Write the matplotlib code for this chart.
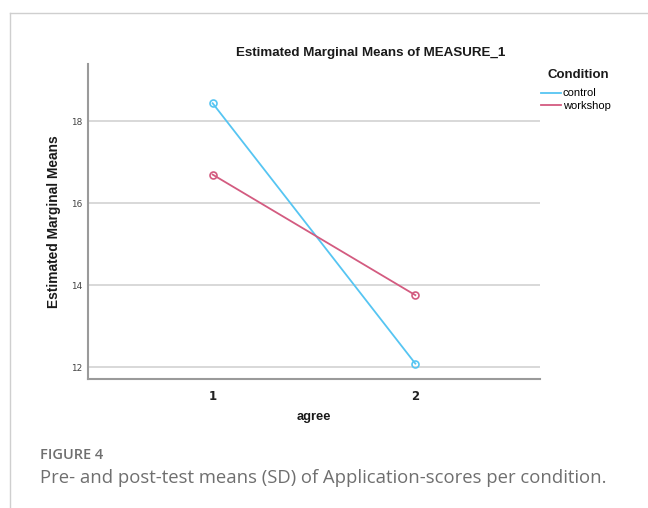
import matplotlib
matplotlib.use("Agg")
import matplotlib.pyplot as plt
from matplotlib.lines import Line2D

# ---- data ----
agree_levels = [1, 2]
conditions = ["control", "workshop"]
control_means = [18.44, 12.09]
workshop_means = [16.70, 13.76]
y_ticks = [12, 14, 16, 18]

colors = {"control": "#56c5f2", "workshop": "#d35b80"}

W, H = 648, 508
fig = plt.figure(figsize=(W / 100, H / 100), dpi=100)

# page-style border lines
fig.add_artist(Line2D([9.5 / W, 1], [1 - 12.5 / H, 1 - 12.5 / H], color="#cfcfcf", lw=1.0))
fig.add_artist(Line2D([9.5 / W, 9.5 / W], [0, 1 - 12.5 / H], color="#cfcfcf", lw=1.0))

left, right, top, bottom = 88, 540, 64, 379
ax = fig.add_axes([left / W, 1 - bottom / H, (right - left) / W, (bottom - top) / H])

for y in y_ticks:
    ax.axhline(y, color="#d6d6d6", lw=1.3, zorder=0)

series = {"control": control_means, "workshop": workshop_means}
for name in conditions:
    ax.plot(agree_levels, series[name], color=colors[name], lw=1.3,
            marker="o", markersize=5, markerfacecolor="none",
            markeredgecolor=colors[name], markeredgewidth=1.2, zorder=3)

ax.set_xlim(0.385, 2.615)
ax.set_ylim(11.715, 19.397)
ax.set_xticks(agree_levels)
ax.set_xticklabels([str(v) for v in agree_levels], fontsize=8.5, fontweight="bold",
                   family="DejaVu Sans", color="#222222")
ax.set_yticks(y_ticks)
ax.set_yticklabels([str(v) for v in y_ticks], fontsize=6.4, color="#444444",
                   family="DejaVu Sans")
ax.tick_params(axis="both", length=0)
ax.tick_params(axis="y", pad=4)
ax.tick_params(axis="x", pad=8)

for s in ["top", "right"]:
    ax.spines[s].set_visible(False)
for s in ["left", "bottom"]:
    ax.spines[s].set_color("#9a9a9a")
    ax.spines[s].set_linewidth(1.5)

# titles / labels
fig.text(371 / W, 1 - 53 / H, "Estimated Marginal Means of MEASURE_1", ha="center", va="center",
         fontsize=9.6, fontweight="bold", family="Liberation Sans", color="#1a1a1a")
fig.text(54 / W, 1 - 222 / H, "Estimated Marginal Means", ha="center", va="center", rotation=90,
         fontsize=9.9, fontweight="bold", family="Liberation Sans", color="#1a1a1a")
fig.text(314 / W, 1 - 417 / H, "agree", ha="center", va="center",
         fontsize=9.3, fontweight="bold", family="Liberation Sans", color="#1a1a1a")

# legend
fig.text(547 / W, 1 - 75 / H, "Condition", ha="left", va="center",
         fontsize=9.5, fontweight="bold", family="Liberation Sans", color="#1a1a1a")
handles = [Line2D([], [], color=colors[n], lw=1.3) for n in conditions]
leg = ax.legend(handles, conditions, loc="upper left",
                bbox_to_anchor=(541 / W, 1 - 88.5 / H), bbox_transform=fig.transFigure,
                frameon=False, handlelength=1.8, handletextpad=0.15,
                labelspacing=0.2, borderpad=0, borderaxespad=0,
                prop={"family": "Liberation Sans", "size": 8})

# caption
fig.text(40 / W, 1 - 459 / H, "FIGURE 4", ha="left", va="baseline",
         fontsize=10.5, family="Open Sans", fontweight="semibold", color="#6f6f6f")
fig.text(40 / W, 1 - 483 / H, "Pre- and post-test means (SD) of Application-scores per condition.",
         ha="left", va="baseline", fontsize=13.35, family="Open Sans", color="#6f6f6f")

fig.savefig("out.png", dpi=100)
